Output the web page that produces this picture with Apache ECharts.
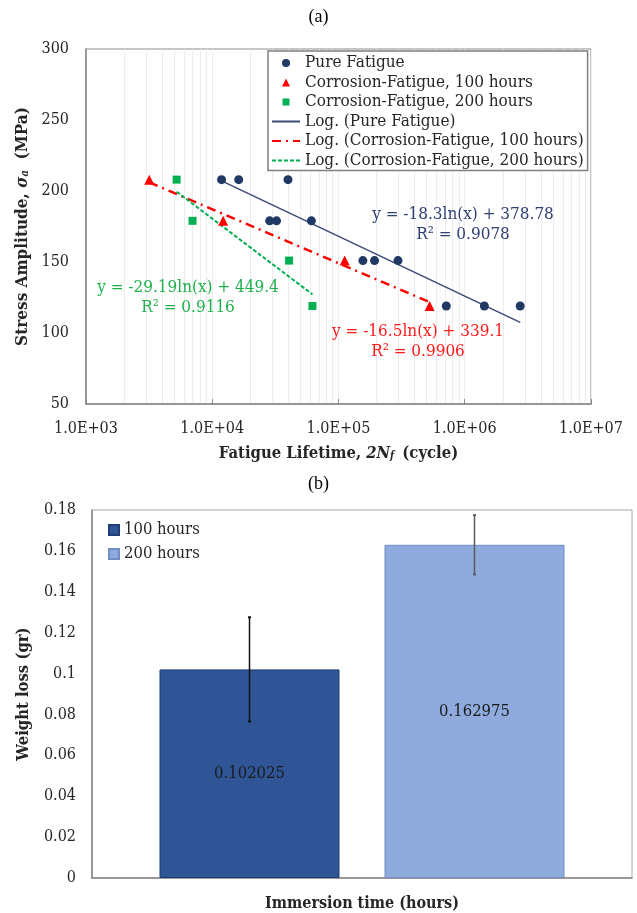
<!DOCTYPE html>
<html>
<head>
<meta charset="utf-8">
<title>Fatigue and weight loss</title>
<script src="https://cdn.jsdelivr.net/npm/echarts@6/dist/echarts.min.js"></script>
<style>
  html, body { margin: 0; padding: 0; background: #fff; }
  #main { width: 637px; height: 913px; }
</style>
</head>
<body>
<div id="main"></div>
<script>
// ---- (a) S-N data ----
var pureX = [11850, 16200, 39800, 28500, 32300, 61000, 156000, 193000, 296000, 714000, 1430000, 2750000];
var pureY = [208, 208, 208, 179, 179, 179, 151, 151, 151, 119, 119, 119];
var corr100X = [3170, 12200, 112000, 527000];
var corr100Y = [208, 179, 151, 119];
var corr200X = [5220, 6980, 40600, 62150];
var corr200Y = [208, 179, 151, 119];
// trend lines y = a*ln(x) + b  (pure, 100h, 200h)
var trendA = [-18.3, -16.5, -29.19];
var trendB = [378.78, 339.1, 449.4];
var trendR2 = ['0.9078', '0.9906', '0.9116'];

// ---- (b) weight loss data ----
var barCategories = [''];
var loss100 = [0.102025];
var loss200 = [0.162975];
var lossErr = [0.0255, 0.0145];

var font = "'DejaVu Serif Condensed', 'Liberation Serif', serif";
var colors = ['#1f3864', '#ff0000', '#00b050', '#3b4a78', '#2f5597', '#8faadc', '#262626']; // 点 蓝/红/绿, 趋势线蓝, 柱 深蓝/浅蓝, 字

function pairs(xs, ys) {
    return xs.map(function (x, i) { return [x, ys[i]]; });
}
function trend(k, xs) {
    var lo = Math.min.apply(null, xs), hi = Math.max.apply(null, xs);
    return [[lo, trendA[k] * Math.log(lo) + trendB[k]], [hi, trendA[k] * Math.log(hi) + trendB[k]]];
}
// 对数轴的次网格线 2..9 x 10^n
var minorLines = [];
for (var e = 3; e < 7; e++) {
    for (var m = 2; m < 10; m++) minorLines.push({ xAxis: m * Math.pow(10, e) });
}

var barGap = 0.25, catGap = 0.25;
var hideSym = { opacity: 0 };
// 图例小图标 (28x8 框内居中)
var iconTri = 'path://M0,0M28,8M10,8L14,0L18,8Z';
var iconRect = 'path://M0,0M28,8M10.5,0.5L17.5,0.5L17.5,7.5L10.5,7.5Z';

function eqText(k, x, y, color) {
    return {
        type: 'text', x: x, y: y, z: 10,
        style: {
            text: 'y = ' + trendA[k] + 'ln(x) + ' + trendB[k] + '\nR\u00b2 = ' + trendR2[k],
            font: '17px ' + font, fill: color, align: 'center', verticalAlign: 'middle', lineHeight: 20
        }
    };
}

var myChart = echarts.init(document.getElementById('main'));
var option = {
    animation: false,
    textStyle: { fontFamily: font },
    graphic: [
        { type: 'text', left: 'center', top: 8, z: 10, style: { text: '(a)', font: '18px Liberation Serif', fill: '#000' } },
        { type: 'text', left: 'center', top: 475, z: 10, style: { text: '(b)', font: '18px Liberation Serif', fill: '#000' } },
        eqText(0, 463, 225, '#2e3f73'),
        eqText(1, 418, 342, '#ff1a1a'),
        eqText(2, 188, 298, '#1fb04c')
    ],
    grid: [
        { left: 86, top: 49, width: 505, height: 355, show: true, borderColor: '#8c8c8c', borderWidth: 1 },
        { left: 92, top: 510, width: 540, height: 372, show: true, borderColor: '#a6a6a6', borderWidth: 1 }
    ],
    legend: [
        {
            orient: 'vertical', left: 268, top: 51,
            itemWidth: 28, itemHeight: 8, itemGap: 1.5,
            padding: [3, 4, 1, 3],
            borderColor: '#7f7f7f', borderWidth: 1.5, backgroundColor: '#fff',
            textStyle: { fontFamily: font, fontSize: 17, color: colors[6], lineHeight: 18 },
            data: [
                { name: 'Pure Fatigue', icon: 'circle' },
                { name: 'Corrosion-Fatigue, 100 hours', icon: iconTri },
                { name: 'Corrosion-Fatigue, 200 hours', icon: iconRect },
                { name: 'Log. (Pure Fatigue)', itemStyle: hideSym },
                { name: 'Log. (Corrosion-Fatigue, 100 hours)', itemStyle: hideSym },
                { name: 'Log. (Corrosion-Fatigue, 200 hours)', itemStyle: hideSym }
            ]
        },
        {
            orient: 'vertical', left: 103, top: 516,
            itemWidth: 10, itemHeight: 10, itemGap: 6, icon: 'rect',
            textStyle: { fontFamily: font, fontSize: 16.5, color: colors[6], lineHeight: 18 },
            data: ['100 hours', '200 hours']
        }
    ],
    xAxis: [
        {
            gridIndex: 0, type: 'log', logBase: 10, min: 1000, max: 1e7,
            axisLine: { lineStyle: { color: '#868686', width: 1.5 } },
            axisTick: { inside: true, length: 5, lineStyle: { color: '#868686' } },
            axisLabel: {
                margin: 17, fontSize: 16, color: colors[6], fontFamily: font,
                formatter: function (v) {
                    var ex = Math.round(Math.log10(v));
                    return (v / Math.pow(10, ex)).toFixed(1) + 'E+' + (ex < 10 ? '0' : '') + ex;
                }
            },
            splitLine: { show: true, lineStyle: { color: '#ededed' } },
            name: 'Fatigue Lifetime, {i|2N}{s|f} (cycle)',
            nameLocation: 'middle', nameGap: 41,
            nameTextStyle: {
                fontFamily: font, fontSize: 16.5, fontWeight: 'bold', color: colors[6],
                rich: {
                    i: { fontFamily: font, fontSize: 16.5, fontWeight: 'bold', fontStyle: 'italic', color: colors[6] },
                    s: { fontFamily: font, fontSize: 10.5, fontWeight: 'bold', fontStyle: 'italic', color: colors[6], verticalAlign: 'bottom', padding: [0, 3, 0, 0] }
                }
            }
        },
        {
            gridIndex: 1, type: 'category', data: barCategories,
            axisLine: { lineStyle: { color: '#868686', width: 1.5 } },
            axisTick: { show: false },
            axisLabel: { show: false },
            name: 'Immersion time (hours)', nameLocation: 'middle', nameGap: 18,
            nameTextStyle: { fontFamily: font, fontSize: 16, fontWeight: 'bold', color: colors[6] }
        }
    ],
    yAxis: [
        {
            gridIndex: 0, type: 'value', min: 50, max: 300, interval: 50,
            axisLine: { show: true, lineStyle: { color: '#868686', width: 1.5 } },
            axisTick: { show: false },
            splitLine: { show: false },
            axisLabel: { margin: 17, fontSize: 16, color: colors[6], fontFamily: font },
            name: 'Stress Amplitude, {i|\u03c3}{s|a}  (MPa)',
            nameLocation: 'middle', nameGap: 55,
            nameTextStyle: {
                fontFamily: font, fontSize: 17, fontWeight: 'bold', color: colors[6],
                rich: {
                    i: { fontFamily: font, fontSize: 17, fontWeight: 'bold', fontStyle: 'italic', color: colors[6] },
                    s: { fontFamily: font, fontSize: 11, fontWeight: 'bold', fontStyle: 'italic', color: colors[6], verticalAlign: 'bottom' }
                }
            }
        },
        {
            gridIndex: 1, type: 'value', min: 0, max: 0.18, interval: 0.02,
            axisLine: { show: true, lineStyle: { color: '#868686', width: 1.5 } },
            axisTick: { show: false },
            splitLine: { show: false },
            axisLabel: { margin: 16, fontSize: 16, color: colors[6], fontFamily: font },
            name: 'Weight loss (gr)', nameLocation: 'middle', nameGap: 60,
            nameTextStyle: { fontFamily: font, fontSize: 16.5, fontWeight: 'bold', color: colors[6] }
        }
    ],
    series: [
        {
            // 次网格线
            type: 'line', xAxisIndex: 0, yAxisIndex: 0, data: [], silent: true, z: 0,
            markLine: { silent: true, z: 0, symbol: 'none', label: { show: false }, lineStyle: { color: '#ececec', type: 'solid', width: 1 }, data: minorLines }
        },
        {
            name: 'Log. (Pure Fatigue)', type: 'line', xAxisIndex: 0, yAxisIndex: 0,
            data: trend(0, pureX), symbol: 'none', z: 3,
            lineStyle: { color: colors[3], width: 1.5 }, itemStyle: { color: colors[3] }
        },
        {
            name: 'Log. (Corrosion-Fatigue, 100 hours)', type: 'line', xAxisIndex: 0, yAxisIndex: 0,
            data: trend(1, corr100X), symbol: 'none', z: 3,
            lineStyle: { color: colors[1], width: 2.5, type: [9, 5, 2, 5] }, itemStyle: { color: colors[1] }
        },
        {
            name: 'Log. (Corrosion-Fatigue, 200 hours)', type: 'line', xAxisIndex: 0, yAxisIndex: 0,
            data: trend(2, corr200X), symbol: 'none', z: 3,
            lineStyle: { color: colors[2], width: 2, type: [4, 2] }, itemStyle: { color: colors[2] }
        },
        {
            name: 'Pure Fatigue', type: 'scatter', xAxisIndex: 0, yAxisIndex: 0,
            data: pairs(pureX, pureY), symbol: 'circle', symbolSize: 9, z: 4,
            itemStyle: { color: colors[0], opacity: 1 }
        },
        {
            name: 'Corrosion-Fatigue, 100 hours', type: 'scatter', xAxisIndex: 0, yAxisIndex: 0,
            data: pairs(corr100X, corr100Y), symbol: 'triangle', symbolSize: 10, z: 4,
            itemStyle: { color: colors[1], opacity: 1 }
        },
        {
            name: 'Corrosion-Fatigue, 200 hours', type: 'scatter', xAxisIndex: 0, yAxisIndex: 0,
            data: pairs(corr200X, corr200Y), symbol: 'rect', symbolSize: 8, z: 4,
            itemStyle: { color: colors[2], opacity: 1 }
        },
        {
            name: '100 hours', type: 'bar', xAxisIndex: 1, yAxisIndex: 1, data: loss100,
            barGap: (barGap * 100) + '%', barCategoryGap: (catGap * 100) + '%',
            itemStyle: { color: colors[4], borderColor: '#1f3d73', borderWidth: 1 },
            label: { show: true, position: 'inside', fontFamily: font, fontSize: 16.5, color: '#1a1a1a' }
        },
        {
            name: '200 hours', type: 'bar', xAxisIndex: 1, yAxisIndex: 1, data: loss200,
            itemStyle: { color: colors[5], borderColor: '#6f8cc4', borderWidth: 1 },
            label: { show: true, position: 'inside', fontFamily: font, fontSize: 16.5, color: '#1a1a1a' }
        },
        {
            // 误差棒
            type: 'custom', xAxisIndex: 1, yAxisIndex: 1, z: 5, silent: true,
            data: [
                [0, loss100[0] - lossErr[0], loss100[0] + lossErr[0], 0],
                [0, loss200[0] - lossErr[1], loss200[0] + lossErr[1], 1]
            ],
            renderItem: function (params, api) {
                var band = api.size([1, 0])[0];
                var w = band * (1 - catGap) / (2 + barGap);
                var off = (w + w * barGap) / 2;
                var s = api.value(3);
                var top = api.coord([api.value(0), api.value(2)]);
                var bot = api.coord([api.value(0), api.value(1)]);
                var x = top[0] + (s === 0 ? -off : off);
                var c = s === 0 ? '#111' : '#5a5a5a';
                return {
                    type: 'group',
                    children: [
                        { type: 'line', shape: { x1: x, y1: top[1], x2: x, y2: bot[1] }, style: { stroke: c, lineWidth: 1.5 } },
                        { type: 'line', shape: { x1: x - 1.5, y1: top[1], x2: x + 1.5, y2: top[1] }, style: { stroke: c, lineWidth: 2 } },
                        { type: 'line', shape: { x1: x - 1.5, y1: bot[1], x2: x + 1.5, y2: bot[1] }, style: { stroke: c, lineWidth: 2 } }
                    ]
                };
            }
        }
    ]
};
myChart.setOption(option);
</script>
</body>
</html>
